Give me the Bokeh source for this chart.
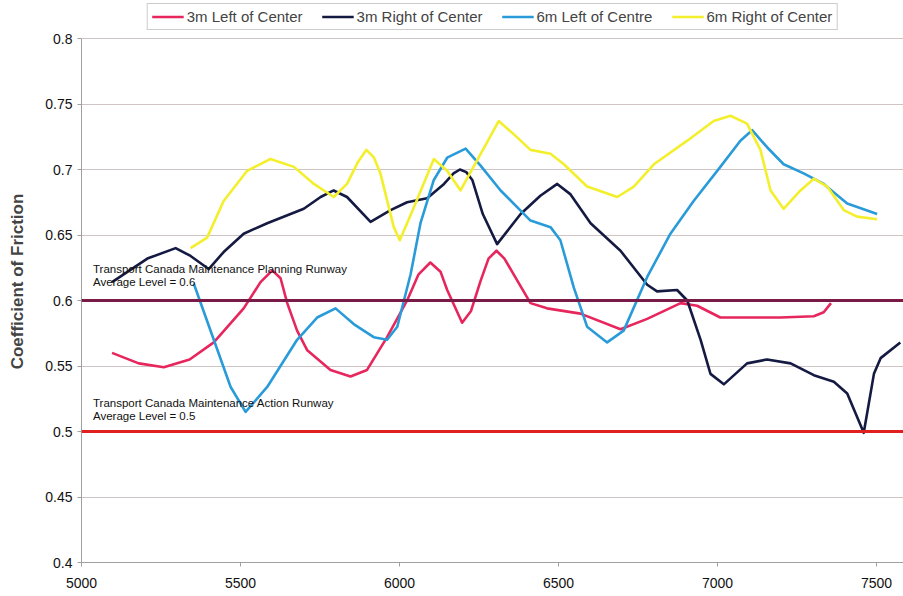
from bokeh.plotting import figure
from bokeh.models import Legend, LegendItem, Label, FixedTicker, Range1d, Span
from bokeh.embed import file_html
from bokeh.resources import INLINE

# 3m Left of Center
red_x = [5096, 5180, 5259, 5340, 5416, 5510, 5563, 5600, 5626, 5647, 5678, 5710, 5783, 5846,
         5898, 5961, 6024, 6060, 6097, 6129, 6150, 6197, 6225, 6255, 6280, 6305, 6330, 6359,
         6412, 6464, 6569, 6695, 6779, 6884, 6936, 7009, 7093, 7198, 7303, 7334, 7357]
red_y = [0.560, 0.552, 0.549, 0.555, 0.568, 0.594, 0.614, 0.623, 0.617, 0.598, 0.577, 0.562,
         0.547, 0.542, 0.547, 0.572, 0.600, 0.620, 0.629, 0.622, 0.608, 0.583, 0.592, 0.615,
         0.632, 0.638, 0.632, 0.620, 0.598, 0.594, 0.590, 0.578, 0.586, 0.598, 0.596, 0.587,
         0.587, 0.587, 0.588, 0.591, 0.598]

# 3m Right of Center
navy_x = [5096, 5207, 5296, 5343, 5400, 5447, 5510, 5584, 5699, 5752, 5793, 5835, 5909, 5972,
          6024, 6087, 6140, 6170, 6190, 6210, 6229, 6262, 6307, 6381, 6443, 6496, 6538, 6601,
          6695, 6779, 6810, 6873, 6905, 6947, 6978, 7020, 7093, 7156, 7230, 7303, 7366, 7408,
          7460, 7492, 7513, 7575]
navy_y = [0.614, 0.632, 0.640, 0.634, 0.624, 0.637, 0.651, 0.659, 0.670, 0.679, 0.684, 0.679,
          0.660, 0.669, 0.675, 0.678, 0.689, 0.697, 0.700, 0.698, 0.692, 0.666, 0.643, 0.666,
          0.680, 0.689, 0.681, 0.659, 0.638, 0.612, 0.607, 0.608, 0.600, 0.570, 0.544, 0.536,
          0.552, 0.555, 0.552, 0.543, 0.538, 0.529, 0.499, 0.544, 0.556, 0.568]

# 6m Left of Centre
blue_x = [5353, 5416, 5469, 5516, 5584, 5678, 5741, 5799, 5856, 5919, 5961, 5993, 6035, 6066,
          6108, 6150, 6208, 6255, 6318, 6412, 6475, 6506, 6548, 6590, 6653, 6705, 6779, 6852,
          6925, 7009, 7072, 7109, 7156, 7208, 7271, 7334, 7408, 7502]
blue_y = [0.613, 0.570, 0.534, 0.515, 0.534, 0.570, 0.587, 0.594, 0.582, 0.572, 0.570, 0.580,
          0.620, 0.659, 0.692, 0.709, 0.716, 0.703, 0.684, 0.661, 0.656, 0.646, 0.610, 0.580,
          0.568, 0.577, 0.618, 0.651, 0.676, 0.702, 0.722, 0.730, 0.717, 0.704, 0.697, 0.689,
          0.674, 0.666]

# 6m Right of Center
yel_x = [5343, 5395, 5447, 5521, 5594, 5668, 5731, 5793, 5835, 5870, 5896, 5920, 5940, 5982,
         6001, 6045, 6108, 6150, 6192, 6244, 6312, 6359, 6412, 6475, 6517, 6590, 6685, 6737,
         6800, 6905, 6988, 7041, 7093, 7135, 7167, 7208, 7261, 7303, 7345, 7397, 7439, 7502]
yel_y = [0.640, 0.648, 0.676, 0.699, 0.708, 0.702, 0.689, 0.679, 0.689, 0.706, 0.715, 0.709,
         0.697, 0.656, 0.646, 0.671, 0.708, 0.699, 0.684, 0.707, 0.737, 0.727, 0.715, 0.712,
         0.704, 0.687, 0.679, 0.687, 0.704, 0.722, 0.737, 0.741, 0.735, 0.715, 0.684, 0.670,
         0.684, 0.693, 0.687, 0.669, 0.664, 0.662]

y_ticks = [0.4, 0.45, 0.5, 0.55, 0.6, 0.65, 0.7, 0.75, 0.8]
y_tick_labels = ["0.4", "0.45", "0.5", "0.55", "0.6", "0.65", "0.7", "0.75", "0.8"]
x_ticks = [5000, 5500, 6000, 6500, 7000, 7500]

planning_level = 0.6
action_level = 0.5

FONT = "Liberation Sans"

# frame extends above 0.8 to hold the legend (38px at 1310 px per unit)
p = figure(width=903, height=596, output_backend="svg", toolbar_location=None,
           x_range=Range1d(5000, 7585), y_range=Range1d(0.4, 0.8 + 38 / 1310),
           min_border_left=81, min_border_right=0, min_border_top=0, min_border_bottom=34)
p.outline_line_color = None
p.background_fill_color = "white"

p.xgrid.grid_line_color = None
p.ygrid.grid_line_color = "#cfc3c3"
p.ygrid.grid_line_width = 1
p.ygrid.ticker = FixedTicker(ticks=y_ticks)

p.yaxis.ticker = FixedTicker(ticks=y_ticks)
p.yaxis.bounds = (0.4, 0.8)
p.yaxis.major_label_overrides = {t: l for t, l in zip(y_ticks, y_tick_labels)}
p.xaxis.ticker = FixedTicker(ticks=x_ticks)
p.xaxis.major_label_overrides = {t: str(t) for t in x_ticks}
for ax in (p.xaxis, p.yaxis):
    ax.axis_line_color = "#a0a0a0"
    ax.major_tick_line_color = "#a0a0a0"
    ax.minor_tick_line_color = None
    ax.major_tick_out = 4
    ax.major_tick_in = 0
    ax.major_label_text_font = FONT
    ax.major_label_text_font_size = "14px"
    ax.major_label_text_color = "#111111"
p.xaxis.major_label_standoff = 11
p.yaxis.axis_label = "Coefficient of Friction"
p.yaxis.axis_label_text_font = FONT
p.yaxis.axis_label_text_font_style = "bold"
p.yaxis.axis_label_text_font_size = "17px"
p.yaxis.axis_label_standoff = 15

# reference levels
p.add_layout(Span(location=planning_level, dimension="width", line_color="#7a1a46", line_width=3))
p.add_layout(Span(location=action_level, dimension="width", line_color="#e0201e", line_width=3))

lw = 2.6
r1 = p.line(red_x, red_y, line_color="#e6265c", line_width=lw, line_join="round")
r2 = p.line(navy_x, navy_y, line_color="#151a42", line_width=lw, line_join="round")
r3 = p.line(blue_x, blue_y, line_color="#2a9bd9", line_width=lw, line_join="round")
r4 = p.line(yel_x, yel_y, line_color="#f4ef2c", line_width=lw, line_join="round")

for txt, yy in [("Transport Canada Maintenance Planning Runway", 0.6285),
                ("Average Level = 0.6", 0.6185),
                ("Transport Canada Maintenance Action Runway", 0.5262),
                ("Average Level = 0.5", 0.5162)]:
    p.add_layout(Label(x=5036, y=yy, text=txt, text_font=FONT, text_font_size="11.5px",
                       text_baseline="top", text_color="#111111"))

legend = Legend(items=[LegendItem(label="3m Left of Center", renderers=[r1]),
                       LegendItem(label="3m Right of Center", renderers=[r2]),
                       LegendItem(label="6m Left of Centre", renderers=[r3]),
                       LegendItem(label="6m Right of Center", renderers=[r4])],
                orientation="horizontal", location="top",
                label_text_font=FONT, label_text_font_size="15px",
                glyph_width=32, glyph_height=15, label_standoff=3, spacing=19,
                padding=4, margin=3, border_line_color="#999999", border_line_width=1,
                label_height=17, background_fill_alpha=1.0)
p.add_layout(legend, "center")

open("out.html", "w").write(file_html(p, INLINE))
